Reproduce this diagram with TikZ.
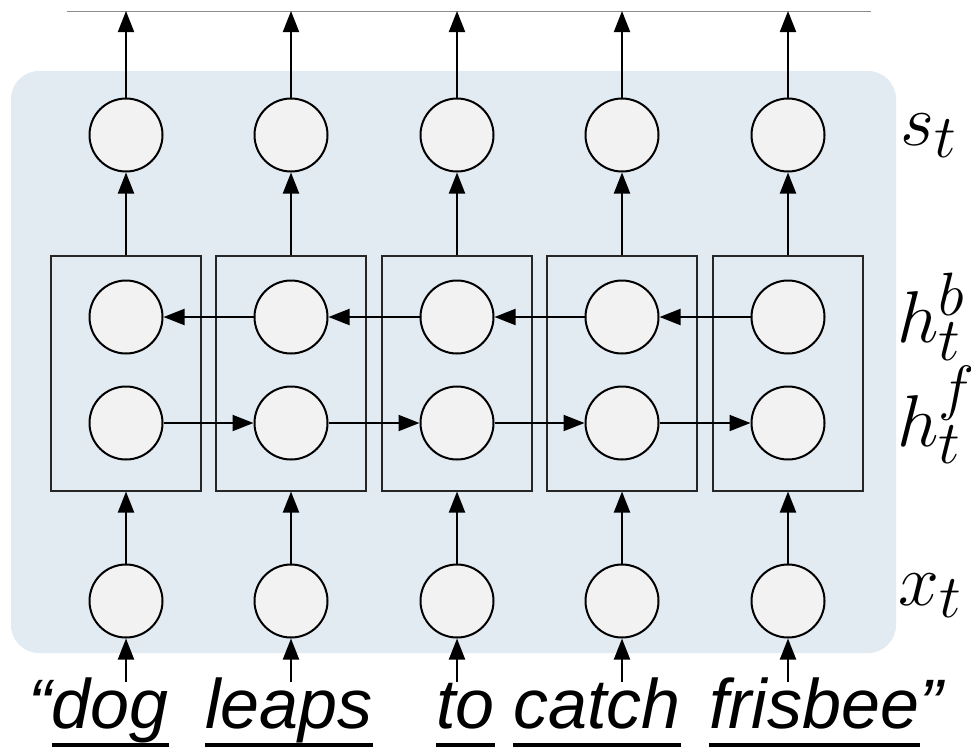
\documentclass[tikz,border=0pt]{standalone}
\usepackage{fontspec}
\newfontfamily\wordfont{Liberation Sans}
\usetikzlibrary{arrows.meta}
\definecolor{bgblue}{HTML}{E2EAF2}
\definecolor{cellfill}{HTML}{F2F2F2}
\begin{document}
\begin{tikzpicture}[x=1pt,y=-1pt,
 unit/.style={circle,draw=black,line width=2pt,fill=cellfill,minimum size=73pt,inner sep=0},
 cellbox/.style={draw=black!85,line width=2pt,minimum width=150pt,minimum height=235pt,inner sep=0},
 conn/.style={line width=2pt,-{Triangle[length=21pt,width=16pt]}},
 word/.style={font=\wordfont\itshape\fontsize{70}{80}\selectfont,inner sep=0,anchor=base west},
 lab/.style={font=\fontsize{24.88}{30}\selectfont,scale=2.95,inner sep=0,anchor=base west},
 uline/.style={line width=3.5pt},
 topline/.style={draw=black!45,line width=0.8pt}]
\useasboundingbox (0,0) rectangle (971,750);
\fill[bgblue, rounded corners=28pt] (11,71) rectangle (896,653);
\coordinate (tl) at (67,11);
\coordinate (tr) at (871,11);
\draw[topline] (tl) -- (tr);
\foreach \i/\x in {1/126,2/291,3/457,4/622,5/788} {
  \node[cellbox] (box\i) at (\x,373) {};
  \coordinate (t\i) at (\x,11);
  \coordinate (w\i) at (\x,682);
}
\foreach \i/\x in {1/126,2/291,3/457,4/622,5/788} {
  \node[unit] (s\i) at (\x,135) {};
  \node[unit] (hb\i) at (\x,317) {};
  \node[unit] (hf\i) at (\x,423) {};
  \node[unit] (x\i) at (\x,601) {};
  \draw[conn] (s\i.north) -- (t\i);
  \draw[conn] (box\i.north) -- (s\i.south);
  \draw[conn] (x\i.north) -- (box\i.south);
  \draw[conn] (w\i) -- (x\i.south);
}
\foreach \i/\j in {1/2,2/3,3/4,4/5} {
  \draw[conn] (hf\i) -- (hf\j);
  \draw[conn] (hb\j) -- (hb\i);
}
\node[word] (q1) at (28,728) {“};
\node[word] (dog) at (q1.base east) {dog};
\node[word] (leaps) at (205,728) {leaps};
\node[word] (to) at (436,728) {to};
\node[word] (catch) at (513,728) {catch};
\node[word] (frisbee) at (709,728) {frisbee};
\node[word] (q2) at (frisbee.base east) {”};
\foreach \n in {dog,leaps,to,catch,frisbee}
  \draw[uline] ([yshift=-17pt]\n.base west) -- ([yshift=-17pt]\n.base east);
\node[lab] (ls) at (900,145) {$s_t$};
\node[lab,text depth=0pt] (lhb) at (897,342) {$h_t^b$};
\node[lab,text height=9pt] (lhf) at (897,446) {$h_t^f$};
\node[lab] (lx) at (898,605) {$x_t$};
\end{tikzpicture}
\end{document}
